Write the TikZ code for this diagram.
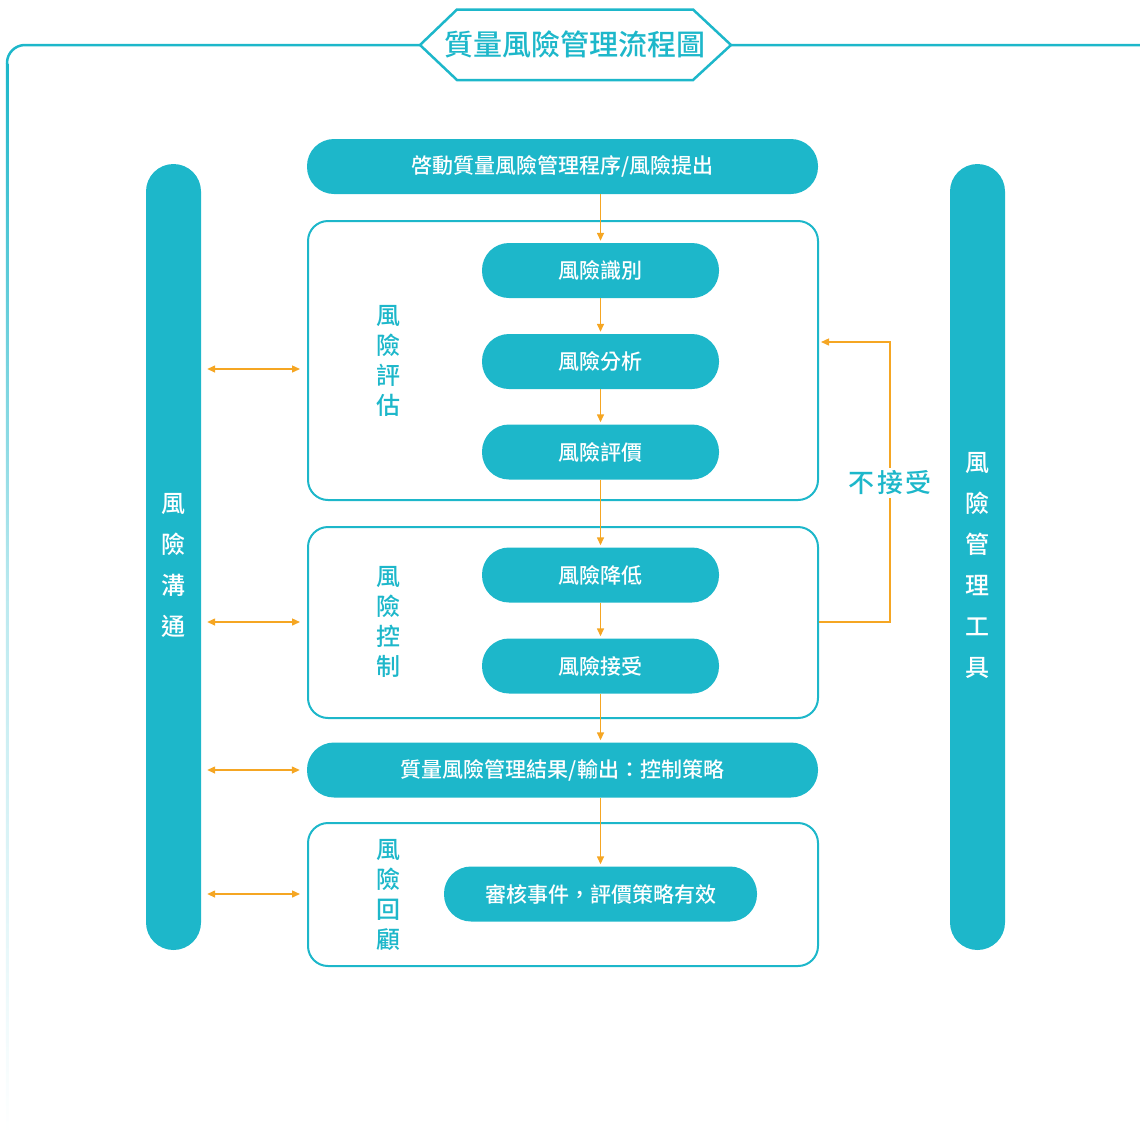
\documentclass[tikz,border=0pt]{standalone}
\usepackage{fontspec}
\setmainfont{Noto Sans CJK TC}[BoldFont={* Medium}]
\usepackage{tikz}
\usetikzlibrary{arrows.meta}
\definecolor{qteal}{HTML}{1DB7CA}
\definecolor{qamber}{HTML}{F5A623}

\begin{document}
\begin{tikzpicture}[x=1pt, y=-1pt,
  pill/.style={fill=qteal, text=white, rounded corners=27pt, minimum height=55pt, inner sep=0pt, font=\fontsize{21}{21}\selectfont\bfseries},
  group/.style={draw=qteal, line width=2pt, rounded corners=20pt, inner sep=0pt},
  grplabel/.style={text=qteal, align=center, font=\fontsize{24}{30}\selectfont\bfseries},
  bar/.style={fill=qteal, rounded corners=27.5pt, minimum width=55pt, minimum height=786pt, inner sep=0pt},
  bartext/.style={text=white, align=center, font=\fontsize{24}{41}\selectfont\bfseries},
  flow/.style={qamber, line width=1.4pt, -{Triangle[length=8pt,width=7pt]}, shorten >=2pt},
  link/.style={qamber, line width=1.4pt, {Triangle[length=8pt,width=7pt]}-{Triangle[length=8pt,width=7pt]}, shorten <=6pt, shorten >=7pt}]
\useasboundingbox (0,0) rectangle (1140,1133);

% outer frame, fading out towards the bottom
\shade[top color=qteal, bottom color=white, middle color=qteal!30] (5.75,63) rectangle (8.25,1133);
\draw[qteal, line width=2.5pt, rounded corners=18pt] (7,63.5) -- (7,45) -- (1158,45) -- (1158,90);

% title plate
\draw[qteal, line width=2.5pt, fill=white] (420,45) -- (457,9.5) -- (693,9.5) -- (731,45) -- (693,80) -- (457,80) -- cycle;
\node[text=qteal, font=\fontsize{29}{29}\selectfont\bfseries] (title) at (575,44) {質量風險管理流程圖};

% side bars
\node[bar] (comm) at (173.5,557) {};
\node[bartext] (commtxt) at (173.5,565) {風\\險\\溝\\通};
\node[bar] (tools) at (977.5,557) {};
\node[bartext] (toolstxt) at (977.5,565) {風\\險\\管\\理\\工\\具};

% groups
\node[group, minimum width=510pt, minimum height=279pt] (box1) at (563,360.5) {};
\node[group, minimum width=510pt, minimum height=191pt] (box2) at (563,622.5) {};
\node[group, minimum width=510pt, minimum height=143pt] (box3) at (563,894.5) {};
\node[grplabel] (lab1) at (388,361) {風\\險\\評\\估};
\node[grplabel] (lab2) at (388,622) {風\\險\\控\\制};
\node[grplabel] (lab3) at (388,895) {風\\險\\回\\顧};

% steps
\node[pill, minimum width=511pt] (start) at (562.5,166.5) {啓動質量風險管理程序/風險提出};
\node[pill, minimum width=237pt] (id) at (600.5,270.5) {風險識別};
\node[pill, minimum width=237pt] (an) at (600.5,361.5) {風險分析};
\node[pill, minimum width=237pt] (ev) at (600.5,452) {風險評價};
\node[pill, minimum width=237pt] (red) at (600.5,575) {風險降低};
\node[pill, minimum width=237pt] (acc) at (600.5,666) {風險接受};
\node[pill, minimum width=511pt] (out) at (562.5,770) {質量風險管理結果/輸出：控制策略};
\node[pill, minimum width=313pt] (rev) at (600.5,894) {審核事件，評價策略有效};

% flow
\draw[flow] (start.south -| id.north) -- (id.north);
\draw[flow] (id) -- (an);
\draw[flow] (an) -- (ev);
\draw[flow] (ev) -- (red);
\draw[flow] (red) -- (acc);
\draw[flow] (acc.south) -- (acc.south |- out.north);
\draw[flow] (out.south -| rev.north) -- (rev.north);

% communication links
\coordinate (c1) at (0,369);
\coordinate (c2) at (0,622);
\coordinate (c3) at (0,770);
\coordinate (c4) at (0,894);
\draw[link] (comm.east |- c1) -- (box1.west |- c1);
\draw[link] (comm.east |- c2) -- (box2.west |- c2);
\draw[link] (comm.east |- c3) -- (out.west |- c3);
\draw[link] (comm.east |- c4) -- (box3.west |- c4);

% not accepted: back to assessment
\coordinate (fb) at (890,342);
\draw[flow] (box2.east |- c2) -| (fb) -- (box1.east |- fb);
\node[fill=white, text=qteal, inner sep=3pt, font=\fontsize{26}{26}\selectfont\bfseries] (rej) at (890,483) {不\hspace{3pt}接\hspace{3pt}受};
\end{tikzpicture}
\end{document}
